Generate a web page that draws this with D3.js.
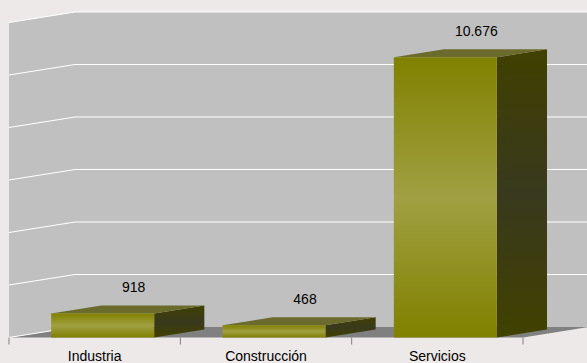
<!DOCTYPE html>
<html>
<head>
<meta charset="utf-8">
<script src="https://cdn.jsdelivr.net/npm/d3@7"></script>
<style>
  html, body { margin: 0; padding: 0; background: #ede9e9; }
  svg { display: block; }
  text { font-family: "Liberation Sans", Arial, sans-serif; }
</style>
</head>
<body>
<svg id="chart" width="587" height="363"></svg>
<script>
// Empleo por sector
const categories = ["Industria", "Construcción", "Servicios"];
const values = [918, 468, 10676];
const gridTicks = [0, 2000, 4000, 6000, 8000, 10000, 12000];

const W = 587, H = 363;
const svg = d3.select("#chart");

// oblique 3D projection: offset of the back plane relative to the front plane
const depth = { dx: 66, dy: -10.5 };
const barDepth = 0.76;          // fraction of floor depth taken by each bar
const barShift = 8;             // horizontal shift of the bar inside its category

const x = d3.scaleBand().domain(categories).range([9, 523]).padding(0);
const y = d3.scaleLinear().domain([0, 12000]).range([337.5, 22.5]);

const es = d3.formatLocale({ decimal: ",", thousands: ".", grouping: [3], currency: ["", "€"] });
const fmt = es.format(",d");

const defs = svg.append("defs");
const gFront = defs.append("linearGradient").attr("id", "gFront")
  .attr("x1", 0).attr("y1", 0).attr("x2", 0).attr("y2", 1);
gFront.append("stop").attr("offset", "0%").attr("stop-color", "#808000");
gFront.append("stop").attr("offset", "50%").attr("stop-color", "#a0a042");
gFront.append("stop").attr("offset", "100%").attr("stop-color", "#808000");
const gSide = defs.append("linearGradient").attr("id", "gSide")
  .attr("x1", 0).attr("y1", 0).attr("x2", 0).attr("y2", 1);
gSide.append("stop").attr("offset", "0%").attr("stop-color", "#404000");
gSide.append("stop").attr("offset", "50%").attr("stop-color", "#39391e");
gSide.append("stop").attr("offset", "100%").attr("stop-color", "#414100");

const [x0, x1] = x.range();
const yTop = y(12000), y0 = y(0);
const pts = a => a.map(p => p.join(",")).join(" ");

// back wall
svg.append("polygon")
  .attr("points", pts([[x0 + depth.dx, yTop + depth.dy], [x1 + depth.dx, yTop + depth.dy],
                       [x1 + depth.dx, y0 + depth.dy], [x0 + depth.dx, y0 + depth.dy]]))
  .attr("fill", "#c0c0c0");
// left side wall
svg.append("polygon")
  .attr("points", pts([[x0, yTop], [x0 + depth.dx, yTop + depth.dy],
                       [x0 + depth.dx, y0 + depth.dy], [x0, y0]]))
  .attr("fill", "#c0c0c0");
// floor
svg.append("polygon")
  .attr("points", pts([[x0, y0], [x0 + depth.dx, y0 + depth.dy],
                       [x1 + depth.dx, y0 + depth.dy], [x1, y0]]))
  .attr("fill", "#808080");

// gridlines on the side wall and the back wall
const grid = svg.append("g").attr("stroke", "#ffffff").attr("stroke-width", 1.2).attr("fill", "none");
gridTicks.forEach(t => {
  const yy = y(t);
  grid.append("polyline")
    .attr("points", pts(t === 0
      ? [[x0, yy], [x0 + depth.dx, yy + depth.dy]]
      : [[x0, yy], [x0 + depth.dx, yy + depth.dy], [x1 + depth.dx + 4, yy + depth.dy]]));
});

// category axis ticks
const tickPos = [x0].concat(categories.map(c => x(c) + x.bandwidth()));
svg.append("g").selectAll("line").data(tickPos).join("line")
  .attr("x1", d => d).attr("x2", d => d)
  .attr("y1", y0).attr("y2", y0 + 7)
  .attr("stroke", "#808080").attr("stroke-width", 1);

// bars
const bw = 103;
const bdx = depth.dx * barDepth, bdy = depth.dy * barDepth;
const bars = svg.append("g");
categories.forEach((c, i) => {
  const v = values[i];
  const left = x(c) + x.bandwidth() / 2 - bw / 2 + barShift;
  const right = left + bw;
  const top = y(v);
  // side face
  bars.append("polygon")
    .attr("points", pts([[right, top], [right + bdx, top + bdy], [right + bdx, y0 + bdy], [right, y0]]))
    .attr("fill", "url(#gSide)");
  // top face
  bars.append("polygon")
    .attr("points", pts([[left, top], [left + bdx, top + bdy], [right + bdx, top + bdy], [right, top]]))
    .attr("fill", "#6b6b2e");
  // front face
  bars.append("rect")
    .attr("x", left).attr("y", top)
    .attr("width", bw).attr("height", y0 - top)
    .attr("fill", "url(#gFront)");
  // value label
  svg.append("text")
    .attr("x", left + bw / 2 + 31)
    .attr("y", top - 21)
    .attr("text-anchor", "middle")
    .attr("font-size", 14)
    .attr("fill", "#000")
    .text(fmt(v));
});

// category labels
svg.append("g").selectAll("text").data(categories).join("text")
  .attr("x", d => x(d) + x.bandwidth() / 2)
  .attr("y", 361)
  .attr("text-anchor", "middle")
  .attr("font-size", 14)
  .attr("fill", "#000")
  .text(d => d);
</script>
</body>
</html>
